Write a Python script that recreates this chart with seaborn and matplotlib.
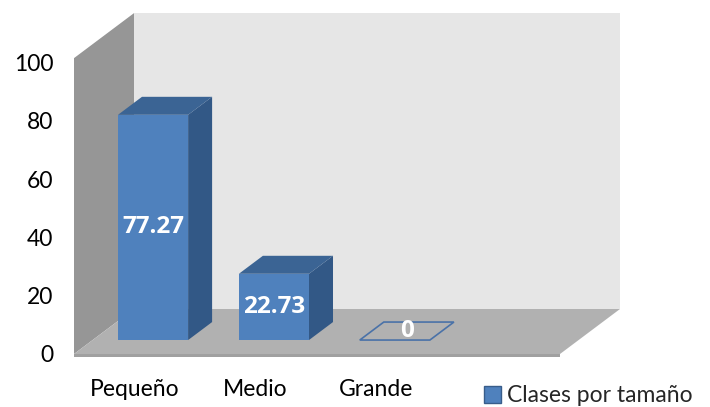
import matplotlib
matplotlib.use("Agg")
import matplotlib.pyplot as plt
import seaborn as sns
from matplotlib.patches import Polygon

# ---- data ----
categorias = ["Pequeño", "Medio", "Grande"]
valores = [77.27, 22.73, 0.0]
serie = "Clases por tamaño"
y_ticks = [0, 20, 40, 60, 80, 100]

# ---- style ----
sns.set_style("white")
plt.rcParams["font.family"] = ["Lato", "DejaVu Sans"]

FRONT = "#4F81BD"
TOP = "#3B6494"
SIDE = "#325886"
BACK_WALL = "#E6E6E6"
SIDE_WALL = "#969696"
FLOOR = "#B1B1B1"
FLOOR_EDGE = "#A0A0A0"

W, H = 710, 407
fig = plt.figure(figsize=(W / 100, H / 100), dpi=100)
# front plane of the 3-D box: x from -0.5 to 3.52 categories, y from 0 to 100
ax = fig.add_axes([74 / W, 53 / H, 486 / W, 291.5 / H])
x_min, x_max = -0.5, 3.52

# depth of the box (pixels) converted to data units
px_per_x = 486 / (x_max - x_min)
px_per_y = 291.5 / 100
DX = 60 / px_per_x
DY = 45 / px_per_y
wall_top = 101.5


def shift(pts, f):
    return [(x + f * DX, y + f * DY) for x, y in pts]


# back wall
ax.add_patch(Polygon(shift([(x_min, 0), (x_max, 0), (x_max, wall_top), (x_min, wall_top)], 1),
                     closed=True, fc=BACK_WALL, ec="none", zorder=0, clip_on=False))
# left wall
ax.add_patch(Polygon([(x_min, 0), (x_min, wall_top), (x_min + DX, wall_top + DY), (x_min + DX, DY)],
                     closed=True, fc=SIDE_WALL, ec="none", zorder=1, clip_on=False))
# floor: top face and thin front edge
ax.add_patch(Polygon([(x_min, 0), (x_max, 0), (x_max + DX, DY), (x_min + DX, DY)],
                     closed=True, fc=FLOOR, ec="none", zorder=1, clip_on=False))
ax.add_patch(Polygon([(x_min, -1.0), (x_max, -1.0), (x_max, 0), (x_min, 0)],
                     closed=True, fc=FLOOR_EDGE, ec="none", zorder=1, clip_on=False))

# bars: front faces from seaborn, then moved into the box depth
bar_w = 0.58
f0, f1 = 0.31, 0.71
sns.barplot(x=categorias, y=valores, color=FRONT, width=bar_w, saturation=1,
            label=serie, ax=ax, zorder=4)
ax.set_xlim(x_min, x_max)
ax.set_ylim(0, 100)

for patch, v in zip(ax.patches[-len(valores):], valores):
    patch.set_x(patch.get_x() + f0 * DX)
    patch.set_y(patch.get_y() + f0 * DY)
    patch.set_clip_on(False)
    patch.set_edgecolor("none")
    xl = patch.get_x() - f0 * DX
    xr = xl + bar_w
    # right side face
    if v > 0:
        ax.add_patch(Polygon(shift([(xr, 0), (xr, v)], f0) + shift([(xr, v), (xr, 0)], f1),
                             closed=True, fc=SIDE, ec="none", zorder=3, clip_on=False))
    # top face (outline only when the bar is empty)
    top_pts = shift([(xl, v), (xr, v)], f0) + shift([(xr, v), (xl, v)], f1)
    ax.add_patch(Polygon(top_pts, closed=True,
                         fc=TOP if v > 0 else "none",
                         ec="#4A72A8" if v == 0 else "none", lw=1.2,
                         zorder=3, clip_on=False))
    # value label
    cx = (xl + xr) / 2
    if v > 0:
        lx, ly = cx + f0 * DX, v / 2 + f0 * DY
    else:
        lx, ly = cx + (f0 + f1) / 2 * DX, (f0 + f1) / 2 * DY
    ax.text(lx, ly, f"{v:g}", ha="center", va="center", color="white",
            fontsize=17.5, fontweight="bold", family=["Open Sans", "DejaVu Sans"],
            zorder=6)

# axes
ax.set_yticks(y_ticks)
ax.set_yticklabels([str(t) for t in y_ticks])
ax.tick_params(axis="y", length=0, pad=15, labelsize=16.5, labelcolor="black")
ax.tick_params(axis="x", length=0, pad=18, labelsize=16.5, labelcolor="black")
ax.set_xlabel("")
ax.set_ylabel("")
for s in ax.spines.values():
    s.set_visible(False)
ax.patch.set_alpha(0)

leg = ax.legend(loc="center left", bbox_to_anchor=(484 / W, 11 / H),
                bbox_transform=fig.transFigure, frameon=False, fontsize=16.5,
                handlelength=0.72, handleheight=0.72, handletextpad=0.3,
                borderpad=0, borderaxespad=0)
for h in leg.legend_handles:
    h.set_edgecolor("#385D8A")
    h.set_linewidth(1)

fig.savefig("out.png", dpi=100)
